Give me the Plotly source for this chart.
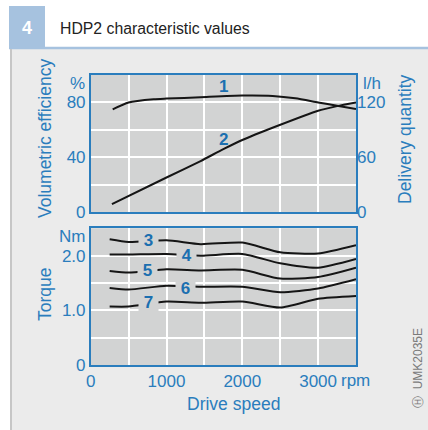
import plotly.graph_objects as go

# ---- data ----
rpm_eff = [290, 500, 830, 1000, 1450, 2000, 2400, 2700, 3000, 3250, 3500]
vol_eff = [75, 80, 82.3, 82.8, 83.8, 85, 84.7, 83, 80, 77.6, 75.3]

rpm_flow = [280, 1000, 1450, 1750, 2000, 2450, 3000, 3250, 3500]
delivery = [9, 38, 56, 69, 79, 94, 111, 116, 120]

rpm_torque = [250, 500, 1000, 1450, 2000, 2500, 3000, 3500]
torque_3 = [2.30, 2.25, 2.28, 2.21, 2.24, 2.06, 2.04, 2.19]
torque_4 = [2.02, 2.02, 2.03, 2.00, 2.03, 1.86, 1.78, 1.94]
torque_5 = [1.72, 1.69, 1.75, 1.73, 1.74, 1.58, 1.61, 1.78]
torque_6 = [1.41, 1.38, 1.45, 1.43, 1.43, 1.33, 1.40, 1.57]
torque_7 = [1.07, 1.07, 1.16, 1.14, 1.16, 1.05, 1.21, 1.26]

x_ticks = [0, 500, 1000, 1500, 2000, 2500, 3000, 3500]
x_ticktext = ["0", "", "1000", "", "2000", "", "3000", ""]
eff_ticks = [0, 20, 40, 60, 80, 100]
eff_ticktext = ["0", "", "40", "", "80", ""]
flow_ticks = [0, 60, 120]
torque_ticks = [0, 0.5, 1.0, 1.5, 2.0, 2.5]
torque_ticktext = ["0", "", "1.0", "", "2.0", ""]

# labels: (text, x, y, axis)
curve_labels = [("1", 1750, 91.5, "y"), ("2", 1750, 53, "y")]
torque_labels = [("3", 760, 2.27), ("4", 1266, 2.01), ("5", 752, 1.72),
                 ("6", 1257, 1.40), ("7", 760, 1.14)]

BLUE = "#2a7dbd"
LBL = "#1b6fb0"
PLOT_BG = "#d2d3d3"
FONT = "Liberation Sans"
W, H = 428, 430

def px(x):
    return x / W

def py(y):
    return 1 - y / H

fig = go.Figure()
line = dict(color="#151515", width=2, shape="spline", smoothing=0.6)
fig.add_trace(go.Scatter(x=rpm_eff, y=vol_eff, mode="lines", line=line,
                         xaxis="x", yaxis="y", showlegend=False, hoverinfo="skip"))
fig.add_trace(go.Scatter(x=rpm_flow, y=delivery, mode="lines", line=line,
                         xaxis="x", yaxis="y2", showlegend=False, hoverinfo="skip"))
for t in [torque_3, torque_4, torque_5, torque_6, torque_7]:
    fig.add_trace(go.Scatter(x=rpm_torque, y=t, mode="lines", line=line,
                             xaxis="x2", yaxis="y3", showlegend=False, hoverinfo="skip"))

xdom = [px(90.7), px(356)]
axis_common = dict(showline=True, linecolor=BLUE, linewidth=1.5, mirror=True,
                   gridcolor="white", gridwidth=1.5, zeroline=False, ticks="",
                   automargin=False,
                   tickfont=dict(family=FONT, size=17, color=BLUE))

fig.update_layout(
    template="none",
    width=W, height=H, margin=dict(l=0, r=0, t=0, b=0, pad=0),
    paper_bgcolor="#ebebeb", plot_bgcolor=PLOT_BG,
    font=dict(family=FONT, color=BLUE),
    xaxis=dict(domain=xdom, anchor="y", range=[0, 3500], tickvals=x_ticks,
               showticklabels=False, **axis_common),
    yaxis=dict(domain=[py(212.3), py(75)], anchor="x", range=[0, 100],
               tickvals=eff_ticks, ticktext=eff_ticktext, **axis_common),
    yaxis2=dict(overlaying="y", side="right", anchor="x", range=[0, 150],
                tickvals=flow_ticks, showgrid=False, showline=False, zeroline=False,
                ticks="", automargin=False,
                tickfont=dict(family=FONT, size=17, color=BLUE)),
    xaxis2=dict(domain=xdom, anchor="y3", range=[0, 3500], tickvals=x_ticks,
                ticktext=x_ticktext, **axis_common),
    yaxis3=dict(domain=[py(365), py(228.3)], anchor="x2", range=[0, 2.5],
                tickvals=torque_ticks, ticktext=torque_ticktext, **axis_common),
)

shapes = [
    dict(type="rect", xref="paper", yref="paper", x0=0, x1=1, y0=py(47), y1=1,
         fillcolor="white", line_width=0, layer="below"),
    dict(type="rect", xref="paper", yref="paper", x0=0, x1=px(10), y0=0, y1=1,
         fillcolor="white", line_width=0, layer="below"),
    dict(type="rect", xref="paper", yref="paper", x0=px(9), x1=px(45), y0=py(47), y1=py(6),
         fillcolor="#a6c2df", line_width=0, layer="below"),
    dict(type="line", xref="paper", yref="paper", x0=px(9), x1=1, y0=py(48), y1=py(48),
         line=dict(color="#a6c2df", width=2.5), layer="below"),
    dict(type="line", xref="paper", yref="paper", x0=px(11), x1=px(11), y0=0, y1=py(49),
         line=dict(color="#c6c6c6", width=2), layer="below"),
]
fig.update_layout(shapes=shapes)


def note(text, x, y, size=17, color=BLUE, angle=0, xa="center", ya="middle", bold=False):
    return dict(text=("<b>%s</b>" % text) if bold else text, x=px(x), y=py(y),
                xref="paper", yref="paper", xanchor=xa, yanchor=ya, textangle=angle,
                showarrow=False, font=dict(family=FONT, size=size, color=color))


ann = [
    note("4", 27, 28, size=18, color="white", bold=True),
    note("HDP2 characteristic values", 58, 29, size=15.8, color="#222222", xa="left"),
    note("Volumetric efficiency", 45, 139, size=17.5, angle=-90),
    note("Delivery quantity", 405, 139, size=17.5, angle=-90),
    note("Torque", 45, 294, size=17.5, angle=-90),
    note("Drive speed", 233, 404, size=17.5),
    note("%", 87, 83, xa="right"),
    note("Nm", 87, 237, xa="right"),
    note("l/h", 361, 83, xa="left"),
    note("rpm", 339, 380, xa="left"),
    note("Ⓗ  UMK2035E", 418, 368, size=12, color="#7a7a7a", angle=-90),
]

for t, x, y, ax in curve_labels:
    ann.append(dict(text="<b>%s</b>" % t, x=x, y=y, xref="x", yref=ax, showarrow=False,
                    xanchor="center", yanchor="middle",
                    font=dict(family=FONT, size=17, color=LBL)))
for t, x, y in torque_labels:
    ann.append(dict(text="&nbsp;<b>%s</b>&nbsp;" % t, x=x, y=y, xref="x2", yref="y3",
                    showarrow=False, xanchor="center", yanchor="middle",
                    bgcolor=PLOT_BG, borderpad=0,
                    font=dict(family=FONT, size=17, color=LBL)))
fig.update_layout(annotations=ann)

fig.write_html("out.html", config={"displayModeBar": False},
               post_script="document.body.style.margin='0';")
